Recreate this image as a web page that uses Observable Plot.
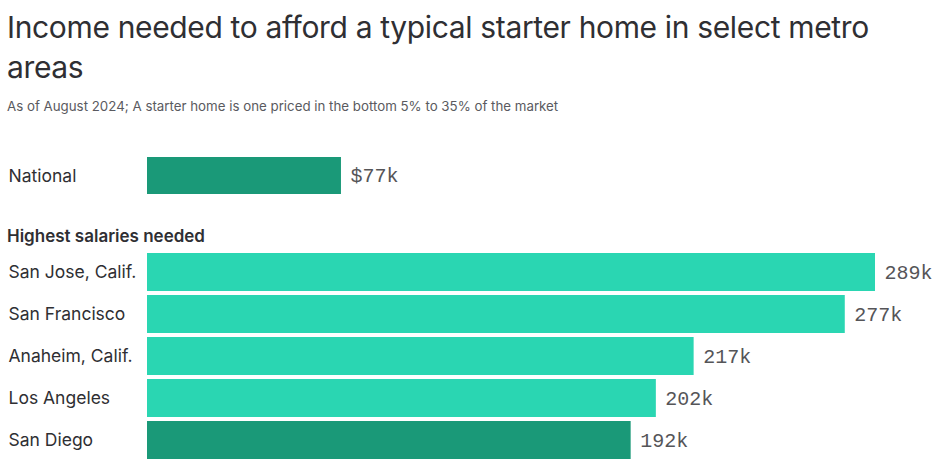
<!DOCTYPE html>
<html>
<head>
<meta charset="utf-8">
<script src="https://cdn.jsdelivr.net/npm/d3@7"></script>
<script src="https://cdn.jsdelivr.net/npm/@observablehq/plot@0.6"></script>
<style>
  html, body { margin: 0; padding: 0; background: #fff; }
  body { width: 949px; font-family: Inter, "Noto Sans", sans-serif; color: #333; }
  h1 { margin: 0; padding: 7px 0 0 7px; font-size: 30px; line-height: 40px; font-weight: 400; letter-spacing: -0.35px; color: #2f2f33; }
  .sub { margin: 0; padding: 10px 0 0 7px; font-size: 13.3px; line-height: 18px; color: #5a5a60; height: 24px; }
  .head { padding: 0 0 0 7px; font-size: 17px; line-height: 24px; font-weight: 600; color: #2f2f33; height: 24px; }
  svg { display: block; }
</style>
</head>
<body>
<h1>Income needed to afford a typical starter home in select metro areas</h1>
<div class="sub">As of August 2024; A starter home is one priced in the bottom 5% to 35% of the market</div>
<div id="national"></div>
<div class="head">Highest salaries needed</div>
<div id="metros"></div>
<script>
// Income needed, thousands of dollars
const nationalName = ["National"];
const nationalValue = [77];
const metroNames = ["San Jose, Calif.", "San Francisco", "Anaheim, Calif.", "Los Angeles", "San Diego"];
const metroValues = [289, 277, 217, 202, 192];
const metroLabels = ["289k", "277k", "217k", "202k", "192k"];
const nationalLabel = ["$77k"];
const metroColors = ["#2ad6b2", "#2ad6b2", "#2ad6b2", "#2ad6b2", "#1a9978"];

const xMax = 289;
const common = {
  width: 949,
  marginLeft: 147,
  marginRight: 74,
  x: {domain: [0, xMax], axis: null},
  style: {fontFamily: "Inter, 'Noto Sans', sans-serif", overflow: "visible"}
};

function barChart(names, values, labels, colors, opts) {
  const rows = names.map((name, i) => ({name, value: values[i], label: labels[i], color: colors[i]}));
  return Plot.plot({
    ...common,
    ...opts,
    y: {domain: names, axis: null, paddingInner: opts.paddingInner, paddingOuter: 0},
    marks: [
      Plot.barX(rows, {y: "name", x: "value", fill: "color"}),
      Plot.text(rows, {y: "name", text: "name", frameAnchor: "left", textAnchor: "start", dx: -139, fontSize: 17.5, fill: "#2f2f33"}),
      Plot.text(rows, {y: "name", x: "value", text: "label", textAnchor: "start", dx: 9, fontSize: 20, fontFamily: "'Liberation Mono', monospace", fill: "#555558"})
    ]
  });
}

document.getElementById("national").append(
  barChart(nationalName, nationalValue, nationalLabel, ["#1a9978"],
    {height: 103, marginTop: 36, marginBottom: 30, paddingInner: 0})
);
document.getElementById("metros").append(
  barChart(metroNames, metroValues, metroLabels, metroColors,
    {height: 223, marginTop: 4, marginBottom: 11, paddingInner: 0.1})
);
</script>
</body>
</html>
